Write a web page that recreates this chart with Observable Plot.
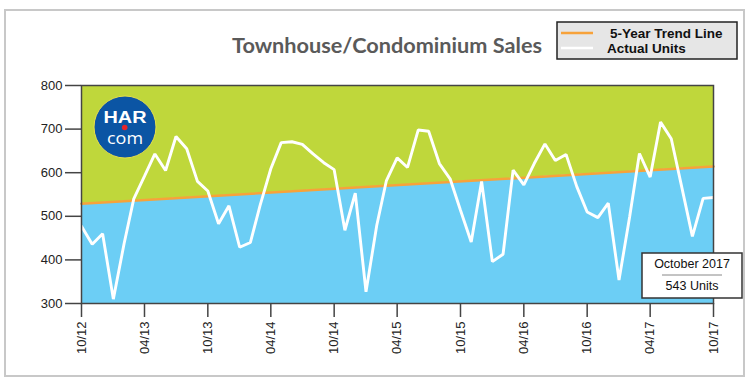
<!DOCTYPE html>
<html>
<head>
<meta charset="utf-8">
<script src="https://cdn.jsdelivr.net/npm/d3@7"></script>
<script src="https://cdn.jsdelivr.net/npm/@observablehq/plot@0.6"></script>
<style>
  html, body { margin: 0; padding: 0; background: #fff; }
  #chart { width: 750px; height: 380px; }
</style>
</head>
<body>
<div id="chart"></div>
<script>
// ---- Data ----
const title = "Townhouse/Condominium Sales";
const startMonth = "2012-10-01";           // first month of the series (monthly)
const actualUnits = [
  477, 436, 460, 310, 437, 540, 592, 643, 605, 683, 655, 580, 558,
  483, 524, 429, 440, 525, 609, 669, 671, 665, 643, 623, 607,
  468, 553, 327, 479, 582, 634, 612, 698, 695, 621, 586, 514,
  441, 580, 396, 413, 606, 572, 621, 666, 628, 642, 568, 510,
  497, 530, 354, 500, 644, 590, 716, 678, 568, 454, 541, 543
];
const trendEnds = [529, 614];               // 5-year trend line at first and last month
const yTicks = [300, 400, 500, 600, 700, 800];
const xTickLabels = ["10/12", "04/13", "10/13", "04/14", "10/14", "04/15", "10/15", "04/16", "10/16", "04/17", "10/17"];
const legendLabels = ["5-Year Trend Line", "Actual Units"];

// ---- Build tables ----
const parse = d3.utcParse("%Y-%m-%d");
const t0 = parse(startMonth);
const sales = actualUnits.map((v, i) => ({ date: d3.utcMonth.offset(t0, i), value: v }));
const last = sales[sales.length - 1];
const trend = [
  { date: sales[0].date, value: trendEnds[0] },
  { date: last.date, value: trendEnds[1] }
];
const parseTick = d3.utcParse("%m/%y");
const xTicks = xTickLabels.map(s => parseTick(s));

const green = "#bfd73b", blue = "#6ccef5", orange = "#f7a23a";

const chart = Plot.plot({
  width: 750, height: 380,
  marginLeft: 81, marginRight: 37, marginTop: 85, marginBottom: 77,
  style: { fontFamily: "'Liberation Sans', Arial, sans-serif", fontSize: "13px", color: "#222", background: "#fff", overflow: "visible" },
  x: { type: "utc", domain: [sales[0].date, last.date] },
  y: { domain: [300, 800] },
  marks: [
    Plot.areaY(trend, { x: "date", y1: "value", y2: 800, fill: green }),
    Plot.areaY(trend, { x: "date", y1: 300, y2: "value", fill: blue }),
    Plot.lineY(trend, { x: "date", y: "value", stroke: orange, strokeWidth: 2.5 }),
    Plot.lineY(sales, { x: "date", y: "value", stroke: "#fff", strokeWidth: 2.9, strokeLinejoin: "miter" }),
    Plot.frame({ stroke: "#444", strokeWidth: 1.5 }),
    Plot.axisY({ ticks: yTicks, tickSize: 16, tickPadding: 3, label: null, stroke: "#444", strokeWidth: 1.5, fill: "#222" }),
    Plot.axisX({ ticks: xTicks, tickFormat: d3.utcFormat("%m/%y"), tickRotate: -90, tickSize: 14, tickPadding: 4, label: null, stroke: "#444", strokeWidth: 1.5, fill: "#222" })
  ]
});
document.getElementById("chart").appendChild(chart);

// ---- Decorations ----
const svg = d3.select(chart);
// outer border
svg.insert("rect", ":first-child")
  .attr("x", 5).attr("y", 10).attr("width", 739).attr("height", 366)
  .attr("fill", "#fff").attr("stroke", "#c8c8c8").attr("stroke-width", 2);

// title
svg.append("text").text(title)
  .attr("x", 387).attr("y", 44).attr("text-anchor", "middle").attr("dominant-baseline", "central")
  .attr("font-family", "Lato, 'Open Sans', sans-serif").attr("font-weight", "bold")
  .attr("font-size", 21).attr("textLength", 310).attr("lengthAdjust", "spacingAndGlyphs")
  .attr("fill", "#5a5a5a");

// legend
const lg = svg.append("g").attr("text-anchor", "start");
lg.append("rect").attr("x", 557).attr("y", 22).attr("width", 180).attr("height", 37)
  .attr("fill", "#e6e6e6").attr("stroke", "#222").attr("stroke-width", 1.5);
lg.append("line").attr("x1", 561).attr("x2", 593).attr("y1", 33).attr("y2", 33)
  .attr("stroke", orange).attr("stroke-width", 2.5);
lg.append("line").attr("x1", 561).attr("x2", 593).attr("y1", 48).attr("y2", 48)
  .attr("stroke", "#fff").attr("stroke-width", 2.5);
lg.append("text").text(legendLabels[0]).attr("x", 610).attr("y", 33).attr("text-anchor", "start")
  .attr("dominant-baseline", "central").attr("font-weight", "bold").attr("font-size", 13.5).attr("fill", "#111");
lg.append("text").text(legendLabels[1]).attr("x", 607).attr("y", 48).attr("text-anchor", "start")
  .attr("dominant-baseline", "central").attr("font-weight", "bold").attr("font-size", 13.5).attr("fill", "#111");

// logo
const logo = svg.append("g");
logo.append("circle").attr("cx", 125).attr("cy", 127).attr("r", 31)
  .attr("fill", "#0b55a4").attr("stroke", "#e8e04a").attr("stroke-width", 1);
logo.append("text").text("HAR").attr("x", 125).attr("y", 117.5).attr("text-anchor", "middle")
  .attr("dominant-baseline", "central").attr("font-family", "'Liberation Sans', Arial, sans-serif")
  .attr("font-weight", "bold").attr("font-size", 16).attr("textLength", 43).attr("lengthAdjust", "spacingAndGlyphs")
  .attr("fill", "#fff");
logo.append("text").text("com").attr("x", 125).attr("y", 137.5).attr("text-anchor", "middle")
  .attr("dominant-baseline", "central").attr("font-family", "'Open Sans', sans-serif")
  .attr("font-size", 16).attr("textLength", 36).attr("lengthAdjust", "spacingAndGlyphs").attr("fill", "#fff");
logo.append("circle").attr("cx", 124.7).attr("cy", 127.5).attr("r", 2.8).attr("fill", "#e8262b");

// annotation box
const ann = svg.append("g");
ann.append("rect").attr("x", 642).attr("y", 253).attr("width", 100).attr("height", 45)
  .attr("fill", "#fff").attr("stroke", "#333").attr("stroke-width", 1.5);
ann.append("text").text(d3.utcFormat("%B %Y")(last.date)).attr("x", 692).attr("y", 264)
  .attr("text-anchor", "middle").attr("dominant-baseline", "central").attr("font-size", 12.5).attr("fill", "#111");
ann.append("line").attr("x1", 662).attr("x2", 722).attr("y1", 275).attr("y2", 275)
  .attr("stroke", "#888").attr("stroke-width", 1);
ann.append("text").text(`${last.value} Units`).attr("x", 692).attr("y", 286)
  .attr("text-anchor", "middle").attr("dominant-baseline", "central").attr("font-size", 12.5).attr("fill", "#111");
</script>
</body>
</html>
